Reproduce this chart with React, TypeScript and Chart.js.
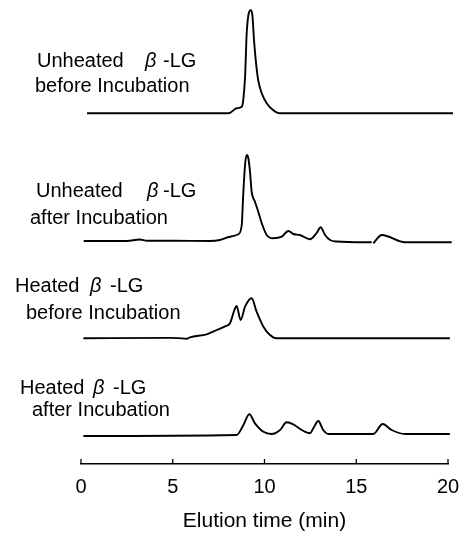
import React, { useEffect, useRef } from "react";
import { Chart, registerables } from "chart.js";

Chart.register(...registerables);

const FONT = "'Liberation Sans', Arial, sans-serif";

// x-axis ticks (min)
const xTicks = [0, 5, 10, 15, 20];

// Trace 1: Unheated β-LG before incubation
const t1Time = [0.33, 7.9, 8.12, 8.48, 8.76, 8.84, 8.94, 9.03, 9.12, 9.25, 9.34, 9.43, 9.54, 9.66, 9.85, 10.12, 10.48, 10.84, 20.27];
const t1Signal = [0, 0, 0.5, 5, 6.6, 13, 36, 80, 98, 103, 98, 73, 50, 33, 20, 10, 3, 0, 0];

// Trace 2: Unheated β-LG after incubation
const t2Time = [0.15, 2.5, 3.2, 3.6, 5, 7, 7.57, 8.12, 8.57, 8.76, 8.84, 8.94, 9.03, 9.12, 9.21, 9.3, 9.48, 9.66, 9.85, 10.12, 10.48, 10.94, 11.3, 11.57, 11.93, 12.48, 12.84, 13.06, 13.3, 13.57, 13.93, 15.84, 15.88, 15.93, 16.39, 17.66, 20.2];
const t2Signal = [0.5, 0.5, 2, 0.8, 0.8, 0.5, 1.5, 4.8, 7.2, 16.5, 46.5, 76.5, 86.5, 83.2, 69.8, 49.8, 39.8, 29.8, 18.2, 6.5, 3.2, 4.8, 10.5, 7.5, 6.5, 2.2, 8.5, 14.2, 6.5, 1.5, 0, -0.8, null, -1.8, 6.5, -0.8, -0.8];

// Trace 3: Heated β-LG before incubation
const t3Time = [0.13, 4.85, 5.3, 5.76, 5.94, 6.85, 7.4, 7.85, 8.12, 8.36, 8.48, 8.7, 8.94, 9.3, 9.57, 9.94, 10.3, 10.66, 20.1];
const t3Signal = [0, 0.4, 0.2, -0.4, 1.0, 4, 8.3, 12, 15, 28.3, 32.3, 18.3, 31.6, 40, 26.6, 11.6, 3.3, 0, 0];

// Trace 4: Heated β-LG after incubation
const t4Time = [0.13, 8.48, 8.85, 9.17, 9.48, 9.94, 10.39, 10.85, 11.2, 11.57, 12.03, 12.48, 12.66, 12.93, 13.2, 13.48, 15.93, 16.44, 16.93, 17.66, 20.1];
const t4Signal = [0, 1, 11, 21.7, 12.7, 4.3, 2, 6, 13.7, 11.7, 6, 2.7, 7.7, 15, 6, 2, 2, 12, 6, 2, 2];

// vertical stacking offsets of the chromatograms (arbitrary units)
const traceOffsets = [350.7, 222.5, 125.7, 28];

const traceTimes = [t1Time, t2Time, t3Time, t4Time];
const traceSignals = [t1Signal, t2Signal, t3Signal, t4Signal];

const labelLines = [
  { parts: [["Unheated", 37, false], ["β", 145, true], ["-LG", 163, false]], y: 60 },
  { parts: [["before Incubation", 35, false]], y: 85 },
  { parts: [["Unheated", 36, false], ["β", 147, true], ["-LG", 163, false]], y: 190 },
  { parts: [["after Incubation", 30, false]], y: 217 },
  { parts: [["Heated", 15, false], ["β", 90, true], ["-LG", 110, false]], y: 285 },
  { parts: [["before Incubation", 26, false]], y: 312 },
  { parts: [["Heated", 20, false], ["β", 93, true], ["-LG", 113, false]], y: 387 },
  { parts: [["after Incubation", 32, false]], y: 409 },
] as const;

const tickMarks = {
  id: "tickMarks",
  afterDraw(chart: any) {
    const ctx = chart.ctx;
    const xs = chart.scales.x;
    const yb = chart.chartArea.bottom;
    ctx.save();
    ctx.strokeStyle = "#000";
    ctx.lineWidth = 1.3;
    xs.ticks.forEach((t: any) => {
      const px = xs.getPixelForValue(t.value);
      ctx.beginPath();
      ctx.moveTo(px, yb);
      ctx.lineTo(px, yb - 5);
      ctx.stroke();
    });
    ctx.restore();
  },
};

const labelsPlugin = {
  id: "traceLabels",
  afterDraw(chart: any) {
    const ctx = chart.ctx;
    ctx.save();
    ctx.fillStyle = "#000";
    ctx.textBaseline = "alphabetic";
    ctx.textAlign = "left";
    labelLines.forEach((line) => {
      line.parts.forEach(([text, x, italic]) => {
        ctx.font = `${italic ? "italic " : ""}20px ${FONT}`;
        ctx.fillText(text as string, x as number, line.y + 7);
      });
    });
    ctx.restore();
  },
};

export default function App() {
  const ref = useRef<HTMLCanvasElement | null>(null);

  useEffect(() => {
    if (!ref.current) return;
    const datasets = traceTimes.map((times, k) => ({
      data: times.map((t, i) => ({
        x: t,
        y: traceSignals[k][i] === null ? null : (traceSignals[k][i] as number) + traceOffsets[k],
      })),
      borderColor: "#000",
      borderWidth: 1.9,
      pointRadius: 0,
      fill: false,
      cubicInterpolationMode: "monotone" as const,
      spanGaps: false,
      clip: false as any,
    }));

    const chart = new Chart(ref.current, {
      type: "line",
      data: { datasets: datasets as any },
      options: {
        animation: false,
        responsive: false,
        devicePixelRatio: 1,
        layout: { padding: { left: 81, right: 12, top: 0, bottom: 0 } },
        plugins: { legend: { display: false }, tooltip: { enabled: false } },
        scales: {
          x: {
            type: "linear",
            min: 0,
            max: 20,
            afterBuildTicks: (s: any) => {
              s.ticks = xTicks.map((v) => ({ value: v }));
            },
            afterFit: (s: any) => {
              s.height = 71;
              s.paddingLeft = 0;
              s.paddingRight = 0;
            },
            ticks: {
              color: "#000",
              font: { family: FONT, size: 20 },
              padding: 3,
              autoSkip: false,
              maxRotation: 0,
            },
            grid: { display: false },
            border: { display: true, color: "#000", width: 1.5 },
            title: {
              display: true,
              text: "Elution time (min)",
              color: "#000",
              font: { family: FONT, size: 21 },
              padding: { top: 4, bottom: 1 },
            },
          },
          y: { display: false, min: 0, max: 464 },
        },
      },
      plugins: [tickMarks, labelsPlugin],
    });
    return () => chart.destroy();
  }, []);

  return (
    <div style={{ position: "absolute", left: 0, top: 0, width: 460, height: 535, background: "#fff" }}>
      <canvas ref={ref} width={460} height={535} style={{ display: "block" }} />
    </div>
  );
}
